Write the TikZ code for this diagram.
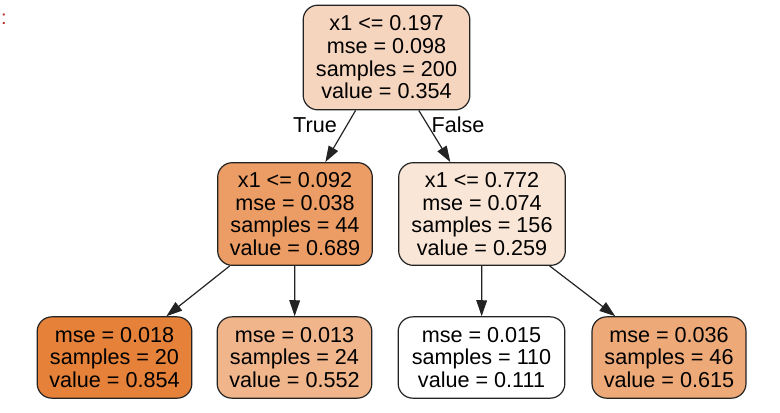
\documentclass[tikz,border=0pt]{standalone}
\usepackage{fontspec}
\setmainfont{Liberation Sans}
\usetikzlibrary{arrows.meta}
\definecolor{treeorange}{RGB}{229,129,57}
\definecolor{edgegray}{RGB}{35,35,35}
\definecolor{markred}{RGB}{190,40,40}

\begin{document}
\begin{tikzpicture}[x=0.75pt,y=0.75pt,yscale=-1,
  treenode/.style={draw=edgegray, line width=0.9pt, rounded corners=11pt, align=center, inner sep=0pt, font=\fontsize{16.2}{17}\selectfont},
  splitnode/.style={treenode, minimum height=77pt},
  leafnode/.style={treenode, minimum height=61pt},
  treeedge/.style={draw=edgegray, line width=0.9pt, -{Triangle[length=12pt,width=8pt]}},
  edgelabel/.style={font=\fontsize{16.2}{17}\selectfont}]
\useasboundingbox (0,0) rectangle (780,412);

%stray mark at top left
\node [text=markred, font=\fontsize{15}{15}\selectfont] (mark) at (4,19.5) {:};

%Root
\node [splitnode, minimum width=125pt, minimum height=78.5pt, fill=treeorange!33] (root) at (386.5,57.5) {x1 <= 0.197\\mse = 0.098\\samples = 200\\value = 0.354};

%Second level
\node [splitnode, minimum width=116pt, fill=treeorange!78] (lmid) at (295,214) {x1 <= 0.092\\mse = 0.038\\samples = 44\\value = 0.689};
\node [splitnode, minimum width=125pt, fill=treeorange!20] (rmid) at (482,214) {x1 <= 0.772\\mse = 0.074\\samples = 156\\value = 0.259};

%Leaves
\node [leafnode, minimum width=116pt, fill=treeorange] (leafa) at (114.5,357.5) {mse = 0.018\\samples = 20\\value = 0.854};
\node [leafnode, minimum width=116pt, fill=treeorange!59] (leafb) at (294.5,357.5) {mse = 0.013\\samples = 24\\value = 0.552};
\node [leafnode, minimum width=125pt, fill=white] (leafc) at (481.5,357.5) {mse = 0.015\\samples = 110\\value = 0.111};
\node [leafnode, minimum width=115.5pt, fill=treeorange!68] (leafd) at (669,357.5) {mse = 0.036\\samples = 46\\value = 0.615};

%Edges
\draw [treeedge] (root) -- (lmid);
\draw [treeedge] (root) -- (rmid);
\draw [treeedge] (lmid) -- (leafa);
\draw [treeedge] (lmid) -- (leafb);
\draw [treeedge] (rmid) -- (leafc);
\draw [treeedge] (rmid) -- (leafd);

% Text Node
\node [edgelabel] (truelbl) at (315,125) {True};
\node [edgelabel] (falselbl) at (458,125) {False};

\end{tikzpicture}
\end{document}
